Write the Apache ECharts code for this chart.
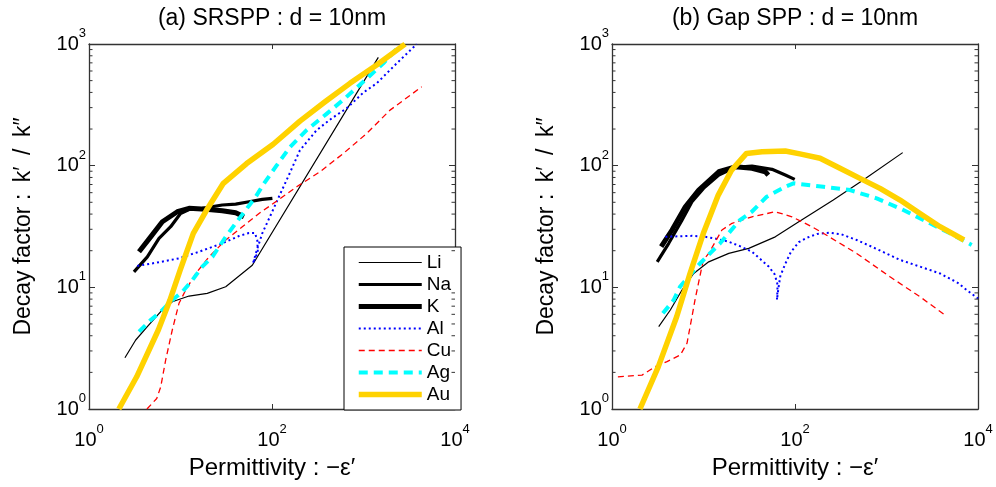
<!DOCTYPE html>
<html><head><meta charset="utf-8">
<script src="https://cdn.jsdelivr.net/npm/echarts@6/dist/echarts.min.js"></script>
<style>html,body{margin:0;padding:0;background:#fff}#c{width:996px;height:487px}</style>
</head><body><div id="c"></div>
<script>
// ---------- data ----------
const seriesNames = ['Li', 'Na', 'K', 'Al', 'Cu', 'Ag', 'Au'];
const panelTitles = ['(a) SRSPP : d = 10nm', '(b) Gap SPP : d = 10nm'];
const xAxisTitle = 'Permittivity : \u2212\u03b5\u2032';
const yAxisTitle = 'Decay factor :\u2002k\u2032\u2002/\u2002k\u2033';
const xRange = [1, 10000];
const yRange = [1, 1000];
const minorTickValues = [2,3,4,5,6,7,8,9,20,30,40,50,60,70,80,90,200,300,400,500,600,700,800,900];

// (a) SRSPP
const leftLi = [[2.47,2.64],[3.24,3.69],[4.34,4.75],[6.08,6.31],[8.13,7.62],[12.4,8.48],[19.6,8.93],[31.2,10.1],[60.9,15.2],[1452,776]];
const leftNa = [[3.10,13.4],[4.34,17.8],[5.82,25.3],[7.81,31.5],[10.0,40.5],[12.4,43.6],[17.3,44.6],[28.6,47.5],[40.1,48.3],[56.1,50.5],[78.3,52.8],[101,53.9]];
const leftK  = [[3.52,19.6],[4.72,26.0],[6.33,34.6],[9.23,41.8],[12.4,44.6],[18.9,43.8],[28.6,42.6],[40.1,41.0],[49.4,38.0]];
const leftAl = [[3.37,15.0],[5.36,15.9],[9.63,17.3],[15.9,19.6],[28.6,23.0],[43.6,26.4],[56,28.0],[65,28.0],[69,24.5],[70,19.5],[62,15.8],[68,20],[78.3,27.8],[96.8,39.3],[119,55.5],[153,83.7],[202,134],[308,196],[450,245],[655,296],[1000,400],[1393,475],[2306,693],[3814,998]];
const leftCu = [[4.30,1.0],[5.5,1.22],[6.08,1.52],[6.89,2.53],[8.13,4.46],[9.63,7.39],[11.4,9.50],[14.7,13.0],[20.5,17.8],[31.2,24.5],[47.4,31.5],[72.1,40.5],[110,50.5],[186,67.1],[335,89.1],[602,126],[1084,184],[1949,286],[4325,445]];
const leftAg = [[3.52,4.32],[4.72,5.39],[6.08,6.30],[8.13,7.86],[10.5,9.20],[13.5,11.5],[17.3,14.8],[22.3,17.8],[31.2,26.0],[40.1,33.6],[51.6,43.2],[66.4,55.5],[80.3,70],[112,100],[157,142],[239,196],[398,268],[602,348],[995,489],[1645,693],[2505,979]];
const leftAu = [[2.12,1.0],[3.32,1.84],[5.72,4.46],[7.67,7.86],[9.89,13.8],[13.8,27.8],[19.3,43.2],[29.4,71.6],[52.8,104],[103,150],[202,232],[380,335],[711,475],[1393,671],[2843,998]];

// (b) Gap SPP
const rightLi = [[3.24,4.75],[4.34,6.51],[5.82,9.50],[7.81,13.0],[11.4,16.2],[18.9,19.0],[31.2,20.9],[60.9,26.0],[110,34.6],[153,40.5],[262,52.2],[557,76.2],[1503,128]];
const rightNa = [[3.12,16.2],[4.17,23.0],[5.82,35.7],[7.48,50.5],[10.0,65.1],[14.7,83.7],[22.3,96.8],[33.9,99.3],[56.1,93.3],[78.3,83.7],[99.3,77.1]];
const rightK  = [[3.45,21.6],[4.53,29.6],[6.33,45.9],[8.87,63.0],[14.7,89.1],[22.3,97.9],[33.9,95.1],[47.4,89.1],[51.1,83.7]];
const rightAl = [[3.83,26.0],[5.36,26.3],[7.5,26.5],[10.5,26.0],[14,25],[18.9,23.7],[25,21.8],[33.9,19.6],[42,17],[51.6,14.8],[60,12.8],[64.5,10.5],[64,8.8],[63.5,7.9],[65.5,9.5],[69,12.3],[78,15.5],[90,19.5],[110,23.5],[134,25.5],[175,27.5],[240,28.1],[320,27.3],[472,24.5],[800,20.5],[1406,16.8],[2323,14.8],[3845,13.0],[6000,10.9],[7530,9.5],[10000,8.1]];
const rightCu = [[1.16,1.84],[2.13,1.90],[2.97,2.23],[3.99,2.45],[5.58,2.78],[6.60,3.47],[7.48,5.73],[8.07,7.86],[9.95,16.8],[11.4,19.0],[15.9,29.6],[20.5,33.6],[33.9,38.0],[60.9,41.8],[92.7,38.0],[153,31.5],[204,27.8],[472,19.0],[1092,12.2],[2323,8.37],[4356,5.92]];
const rightAg = [[3.60,6.11],[4.72,7.86],[5.53,10.1],[9.15,15.7],[15.1,22.9],[25,35.7],[33.9,42],[49,55.5],[78.3,67.1],[96.3,71.6],[204,67.1],[399,63.0],[781,53.9],[1527,43.2],[2987,33.6],[4944,27.8],[8531,22.3]];
const rightAu = [[2.02,1.0],[3.21,2.23],[5.09,5.73],[7.12,13.0],[9.96,27.8],[14.5,57.3],[20.3,92],[29.5,126],[43.6,130],[78.3,132],[113,125],[188,115],[310,95.1],[513,78.6],[849,65.1],[1406,52.2],[2323,40.5],[3845,31.5],[7030,24.5]];

const panelData = [
  {Li:leftLi, Na:leftNa, K:leftK, Al:leftAl, Cu:leftCu, Ag:leftAg, Au:leftAu},
  {Li:rightLi, Na:rightNa, K:rightK, Al:rightAl, Cu:rightCu, Ag:rightAg, Au:rightAu}
];

// ---------- styles ----------
const FONT = '"Liberation Sans", Arial, sans-serif';
const lineStyles = {
  Li: {color:'#000000', width:1.2, type:'solid'},
  Na: {color:'#000000', width:3.2, type:'solid'},
  K:  {color:'#000000', width:5, type:'solid'},
  Al: {color:'#0000ff', width:2, type:[2,3]},
  Cu: {color:'#ff0000', width:1.3, type:[6,4]},
  Ag: {color:'#00ffff', width:4, type:[9,6]},
  Au: {color:'#ffd200', width:5.5, type:'solid'}
};
const grids = [
  {left:89, top:44, width:366, height:365},
  {left:612, top:44, width:366, height:365}
];
const AX = '#333333';
const rich = {
  b:{fontSize:20, lineHeight:34, fontFamily:FONT, color:'#000'},
  s:{fontSize:13, lineHeight:14, verticalAlign:'top', fontFamily:FONT, color:'#000'}
};
function supLabel(v){ return '{b|10}{s|' + Math.round(Math.log10(v)) + '}'; }

const xAxes = [], yAxes = [], series = [];
grids.forEach((g, gi) => {
  xAxes.push({type:'log', logBase:10, gridIndex:gi, position:'bottom', min:xRange[0], max:xRange[1], interval:2,
    name:xAxisTitle, nameLocation:'middle', nameGap:47,
    nameTextStyle:{fontSize:24, fontFamily:FONT, color:'#000'},
    axisLine:{show:true, lineStyle:{color:AX, width:1.3}},
    axisTick:{show:true, inside:true, length:5, lineStyle:{color:AX}},
    axisLabel:{show:true, margin:14, formatter:supLabel, rich:rich, showMinLabel:true, showMaxLabel:true},
    splitLine:{show:false}});
  xAxes.push({type:'log', logBase:10, gridIndex:gi, position:'top', min:xRange[0], max:xRange[1], interval:2,
    axisLine:{show:true, lineStyle:{color:AX, width:1.3}},
    axisTick:{show:true, inside:true, length:5, lineStyle:{color:AX}},
    axisLabel:{show:false}, splitLine:{show:false}});
  yAxes.push({type:'log', logBase:10, gridIndex:gi, position:'left', min:yRange[0], max:yRange[1], interval:1,
    name:yAxisTitle, nameLocation:'middle', nameGap:54,
    nameTextStyle:{fontSize:23, fontFamily:FONT, color:'#000'},
    axisLine:{show:true, lineStyle:{color:AX, width:1.3}},
    axisTick:{show:true, inside:true, length:6, lineStyle:{color:AX}},
    axisLabel:{show:true, margin:3, formatter:supLabel, rich:rich, showMinLabel:true, showMaxLabel:true},
    splitLine:{show:false}});
  yAxes.push({type:'log', logBase:10, gridIndex:gi, position:'right', min:yRange[0], max:yRange[1], interval:1,
    axisLine:{show:true, lineStyle:{color:AX, width:1.3}},
    axisTick:{show:true, inside:true, length:6, lineStyle:{color:AX}},
    axisLabel:{show:false}, splitLine:{show:false}});

  // log-spaced minor ticks on both vertical borders
  series.push({type:'custom', xAxisIndex:gi*2, yAxisIndex:gi*2, silent:true, clip:false, z:5,
    data: minorTickValues.map(v => [xRange[0], v]), encode:{x:0, y:1},
    renderItem(params, api){
      const p = api.coord([api.value(0), api.value(1)]);
      const cs = params.coordSys;
      const L = 3.5;
      return {type:'group', children:[
        {type:'line', shape:{x1:cs.x, y1:p[1], x2:cs.x+L, y2:p[1]}, style:{stroke:AX, lineWidth:1}},
        {type:'line', shape:{x1:cs.x+cs.width, y1:p[1], x2:cs.x+cs.width-L, y2:p[1]}, style:{stroke:AX, lineWidth:1}}
      ]};
    }});

  seriesNames.forEach(n => {
    const st = lineStyles[n];
    series.push({type:'line', name:n, xAxisIndex:gi*2, yAxisIndex:gi*2,
      data: panelData[gi][n], showSymbol:false, symbol:'none', smooth:false, clip:true,
      lineStyle:{color:st.color, width:st.width, type:st.type, cap:'butt', join:'round'},
      itemStyle:{color:st.color}, emphasis:{disabled:true}, animation:false});
  });
});

const chart = echarts.init(document.getElementById('c'));
chart.setOption({
  animation:false,
  backgroundColor:'#ffffff',
  textStyle:{fontFamily:FONT},
  grid: grids,
  xAxis: xAxes,
  yAxis: yAxes,
  legend:{
    data: seriesNames, orient:'vertical', left:344, top:247,
    padding:[6, 10, 6, 12], itemWidth:63, itemHeight:14, itemGap:3,
    backgroundColor:'#ffffff', borderColor:'#000000', borderWidth:1,
    textStyle:{fontSize:19, fontFamily:FONT, color:'#000'},
    itemStyle:{opacity:0},
    lineStyle:{width:'inherit', opacity:1}, selectedMode:false
  },
  graphic: panelTitles.map((t, i) => ({
    type:'text', x: grids[i].left + grids[i].width/2, y: 19,
    style:{text:t, textAlign:'center', textVerticalAlign:'middle', font:'23px ' + FONT, fill:'#000'}
  })),
  series: series
});
</script></body></html>
